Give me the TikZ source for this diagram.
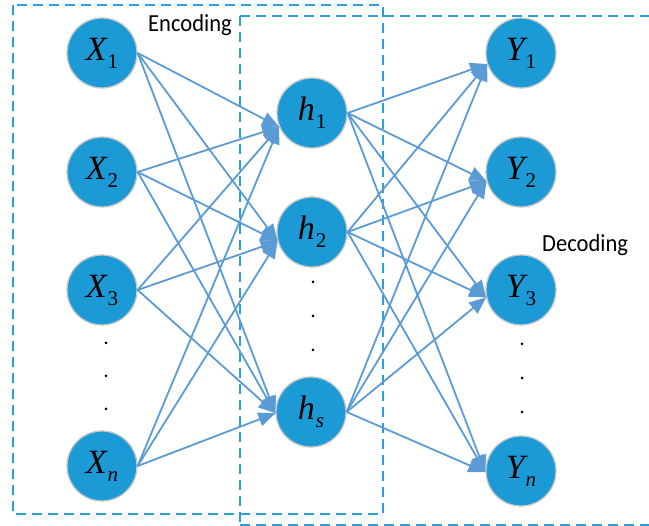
\documentclass[tikz,border=0pt]{standalone}
\usepackage{fontspec}
\setmainfont{Carlito}
\newfontfamily\labfont{Liberation Serif}
\usetikzlibrary{arrows.meta}

\definecolor{nodeblue}{HTML}{1B9AD6}
\definecolor{edgeblue}{HTML}{5B9BD5}
\definecolor{boxblue}{HTML}{2A9FDB}
\definecolor{rimgray}{HTML}{C8C8C8}

% italic letter with a lowered subscript
\newcommand{\nlab}[2]{{\labfont\fontsize{34}{34}\selectfont\itshape #1\kern1pt\raisebox{-8pt}{\fontsize{21}{21}\selectfont #2}}}
% region caption, slightly condensed
\newcommand{\regtext}[1]{\scalebox{0.92}[1]{\fontsize{24.5}{24.5}\selectfont #1}}

\tikzset{
  unit/.style={circle, fill=nodeblue, draw=rimgray, line width=1.3pt,
    minimum size=70pt, inner sep=0pt},
  dotmark/.style={circle, fill=black, inner sep=0pt, minimum size=3pt},
  link/.style={draw=edgeblue, line width=1.8pt,
    -{Triangle[length=17pt, width=14pt]}},
  region/.style={draw=boxblue, line width=1.5pt, dash pattern=on 10pt off 6pt},
  tag/.style={anchor=base west, inner sep=0pt},
}

\begin{document}
\begin{tikzpicture}[x=1pt, y=-1pt]
\useasboundingbox (0,0) rectangle (649,526);

% encoder / decoder regions
\draw[region] (13,5) rectangle (383,514);
\draw[region] (240,16) -- (660,16);
\draw[region] (240,16) -- (240,540);
\draw[region] (240,525) -- (660,525);

\node[tag] (enc) at (148,32) {\regtext{Encoding}};
\node[tag] (dec) at (542,252) {\regtext{Decoding}};

% input layer
\node[unit] (X1) at (102,53)  {\nlab{X}{\upshape 1}};
\node[unit] (X2) at (102,172) {\nlab{X}{\upshape 2}};
\node[unit] (X3) at (102,290) {\nlab{X}{\upshape 3}};
\node[unit] (Xn) at (102,466) {\nlab{X}{n}};
\node[dotmark] (xd1) at (106,343) {};
\node[dotmark] (xd2) at (106,376) {};
\node[dotmark] (xd3) at (106,409) {};

% hidden layer
\node[unit] (h1) at (312,113) {\nlab{h}{\upshape 1}};
\node[unit] (h2) at (312,232) {\nlab{h}{\upshape 2}};
\node[unit] (hs) at (311,412) {\nlab{h}{s}};
\node[dotmark] (hd1) at (313,282) {};
\node[dotmark] (hd2) at (313,316) {};
\node[dotmark] (hd3) at (313,350) {};

% output layer
\node[unit] (Y1) at (521,53)  {\nlab{Y}{\upshape 1}};
\node[unit] (Y2) at (521,172) {\nlab{Y}{\upshape 2}};
\node[unit] (Y3) at (521,290) {\nlab{Y}{\upshape 3}};
\node[unit] (Yn) at (521,471) {\nlab{Y}{n}};
\node[dotmark] (yd1) at (522,344) {};
\node[dotmark] (yd2) at (522,378) {};
\node[dotmark] (yd3) at (522,412) {};

% full connections; each layer's arrows meet at one point on the target rim
\foreach \s in {X1,X2,X3,Xn}
  \foreach \t/\a in {h1/203,h2/195,hs/182}
    \draw[link] (\s.east) -- (\t.\a);
\foreach \s in {h1,h2,hs}
  \foreach \t/\a in {Y1/198,Y2/195,Y3/192,Yn/182}
    \draw[link] (\s.east) -- (\t.\a);
\end{tikzpicture}
\end{document}
